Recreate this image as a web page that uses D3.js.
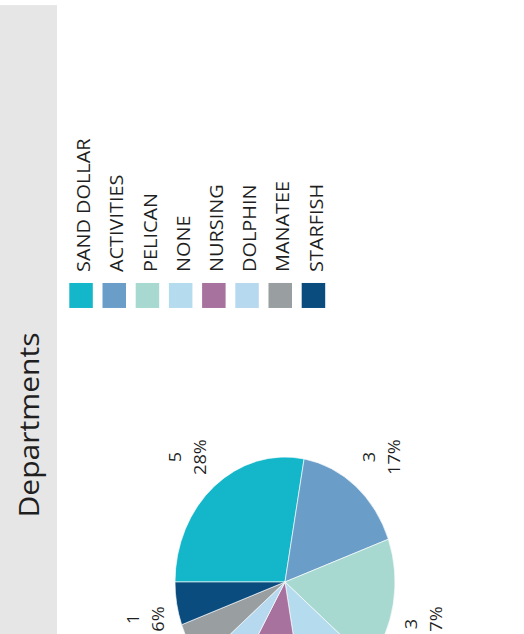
<!DOCTYPE html>
<html>
<head>
<meta charset="utf-8">
<script src="https://cdn.jsdelivr.net/npm/d3@7"></script>
<style>
  html, body { margin: 0; padding: 0; background: #fff; }
  svg { display: block; }
  text { font-family: "Open Sans", "DejaVu Sans", sans-serif; fill: #1f1f1f; }
</style>
</head>
<body>
<svg id="chart" width="524" height="634"></svg>
<script>
// Department headcounts
const categories = ["SAND DOLLAR", "ACTIVITIES", "PELICAN", "NONE", "NURSING", "DOLPHIN", "MANATEE", "STARFISH"];
const counts = [5, 3, 3, 2, 2, 1, 1, 1];
const colors = ["#14b7c9", "#6a9ec9", "#a7d9d0", "#b5dbee", "#a8729f", "#b7d9ef", "#999ea1", "#0b4c7f"];
const title = "Departments";

const W = 524, H = 634;
const stretch = 1.136;          // panel is drawn slightly elongated along its long side
const svg = d3.select("#chart");

// The panel is laid out upright, then turned a quarter turn counter-clockwise.
const root = svg.append("g")
  .attr("transform", `translate(0,${H}) scale(1,${stretch}) rotate(-90)`);
const panelW = H / stretch;     // local width (runs up the page)

// Title band
root.append("rect")
  .attr("x", 0).attr("y", 0)
  .attr("width", panelW - 4.5).attr("height", 57)
  .attr("fill", "#e6e6e6");

root.append("text")
  .attr("x", 184).attr("y", 39)
  .attr("text-anchor", "middle")
  .style("font-size", "26.5px")
  .text(title);

// Legend
const color = d3.scaleOrdinal().domain(categories).range(colors);
const legendY = d3.scaleBand()
  .domain(categories)
  .range([69.3, 325.2])
  .paddingInner(0.292)
  .paddingOuter(0);

const legend = root.append("g");
const item = legend.selectAll("g").data(categories).join("g");
item.append("rect")
  .attr("x", 287)
  .attr("y", d => legendY(d))
  .attr("width", 22)
  .attr("height", legendY.bandwidth())
  .attr("fill", d => color(d));
item.append("text")
  .attr("x", 318.7)
  .attr("y", d => legendY(d) + 21)
  .style("font-size", "17.5px")
  .text(d => d);

// Pie
const total = d3.sum(counts);
const pct = d3.format(".0%");
const data = categories.map((c, i) => ({ name: c, value: counts[i] }));
const pie = d3.pie().value(d => d.value).sort(null);
const r = 110;
const arc = d3.arc().innerRadius(0).outerRadius(r);
const anchorR = 123;            // labels sit just outside the rim
const boxHalfH = 17.5;

const pieG = root.append("g").attr("transform", "translate(45.8,285)");
const arcs = pie(data);

pieG.selectAll("path").data(arcs).join("path")
  .attr("d", arc)
  .attr("fill", d => color(d.data.name))
  .attr("stroke", "#ffffff")
  .attr("stroke-width", 0.6);

// Value / percent labels: the label box's inner corner touches a point just outside the slice middle
const lab = pieG.selectAll("g.lab").data(arcs).join("g").attr("class", "lab");
lab.append("text")
  .attr("text-anchor", "middle")
  .attr("y", -7)
  .style("font-size", "16px")
  .text(d => d.data.value);
lab.append("text")
  .attr("text-anchor", "middle")
  .attr("y", 18)
  .style("font-size", "16px")
  .text(d => pct(d.data.value / total));

lab.attr("transform", function(d) {
  const a = (d.startAngle + d.endAngle) / 2;
  const s = Math.sin(a), c = Math.cos(a);
  const w = d3.max(d3.select(this).selectAll("text").nodes(), n => n.getComputedTextLength());
  const x = anchorR * s + Math.sign(s) * w / 2;
  const y = -anchorR * c - Math.sign(c) * boxHalfH;
  return `translate(${x},${y})`;
});
</script>
</body>
</html>
